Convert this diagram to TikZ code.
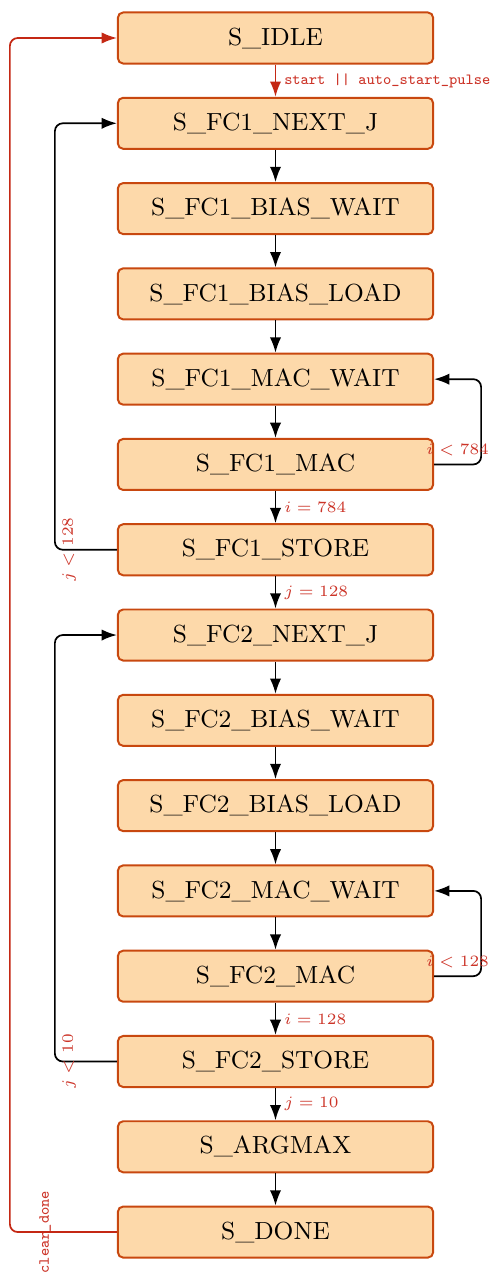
\documentclass[tikz,border=0pt]{standalone}
\usetikzlibrary{arrows.meta}
\definecolor{stfill}{RGB}{253,217,170}
\definecolor{stdraw}{RGB}{200,72,15}
\definecolor{resetred}{RGB}{196,40,20}
\definecolor{condred}{RGB}{204,52,40}
\begin{document}
\begin{tikzpicture}[x=0.38pt,y=-0.38pt,
  state/.style={draw=stdraw, fill=stfill, line width=0.75pt, rounded corners=2pt,
    minimum width=119.8pt, minimum height=19.4pt, inner sep=0pt,
    font=\fontsize{9.4}{11}\selectfont},
  flow/.style={line width=0.65pt, -{Latex[length=5.8pt,width=4.3pt]}},
  loopback/.style={flow, rounded corners=3pt},
  cond/.style={text=condred, font=\fontsize{6.5}{8}\selectfont, inner sep=1pt},
  sig/.style={text=condred, font=\fontsize{5.9}{7}\selectfont\ttfamily, inner sep=1pt},
]
\useasboundingbox (0,0) rectangle (491,1272);

% states, top to bottom
\foreach \nm/\txt [count=\k from 0] in {
  idle/S\_IDLE, nA/S\_FC1\_NEXT\_J, bwA/S\_FC1\_BIAS\_WAIT, blA/S\_FC1\_BIAS\_LOAD,
  mwA/S\_FC1\_MAC\_WAIT, mA/S\_FC1\_MAC, stA/S\_FC1\_STORE,
  nB/S\_FC2\_NEXT\_J, bwB/S\_FC2\_BIAS\_WAIT, blB/S\_FC2\_BIAS\_LOAD,
  mwB/S\_FC2\_MAC\_WAIT, mB/S\_FC2\_MAC, stB/S\_FC2\_STORE,
  argmax/S\_ARGMAX, done/S\_DONE}
  \node[state] (\nm) at (275.5,{38+85.29*\k}) {\txt};

% start transition
\draw[flow, resetred] (idle) -- node[sig, right=2pt] {start || auto\_start\_pulse} (nA);

% straight chain
\draw[flow] (nA) -- (bwA);
\draw[flow] (bwA) -- (blA);
\draw[flow] (blA) -- (mwA);
\draw[flow] (mwA) -- (mA);
\draw[flow] (mA) -- node[cond, right=2pt] {$i = 784$} (stA);
\draw[flow] (stA) -- node[cond, right=2pt] {$j = 128$} (nB);
\draw[flow] (nB) -- (bwB);
\draw[flow] (bwB) -- (blB);
\draw[flow] (blB) -- (mwB);
\draw[flow] (mwB) -- (mB);
\draw[flow] (mB) -- node[cond, right=2pt] {$i = 128$} (stB);
\draw[flow] (stB) -- node[cond, right=2pt] {$j = 10$} (argmax);
\draw[flow] (argmax) -- (done);

% MAC loops
\draw[loopback] (mA.east) -- node[cond, above=2pt] {$i < 784$} ++(47,0) |- (mwA.east);
\draw[loopback] (mB.east) -- node[cond, above=2pt] {$i < 128$} ++(47,0) |- (mwB.east);

% next-neuron loops
\draw[loopback] (stA.west) -- ++(-62,0)
  node[cond, pos=1, rotate=90, anchor=north, inner sep=2.5pt] {$j < 128$} |- (nA.west);
\draw[loopback] (stB.west) -- ++(-62,0)
  node[cond, pos=1, rotate=90, anchor=north, inner sep=2.5pt] {$j < 10$} |- (nB.west);

% return to idle
\draw[loopback, resetred] (done.west) -- ++(-107,0)
  node[sig, pos=0.67, rotate=90] {clear\_done} |- (idle.west);
\end{tikzpicture}
\end{document}
